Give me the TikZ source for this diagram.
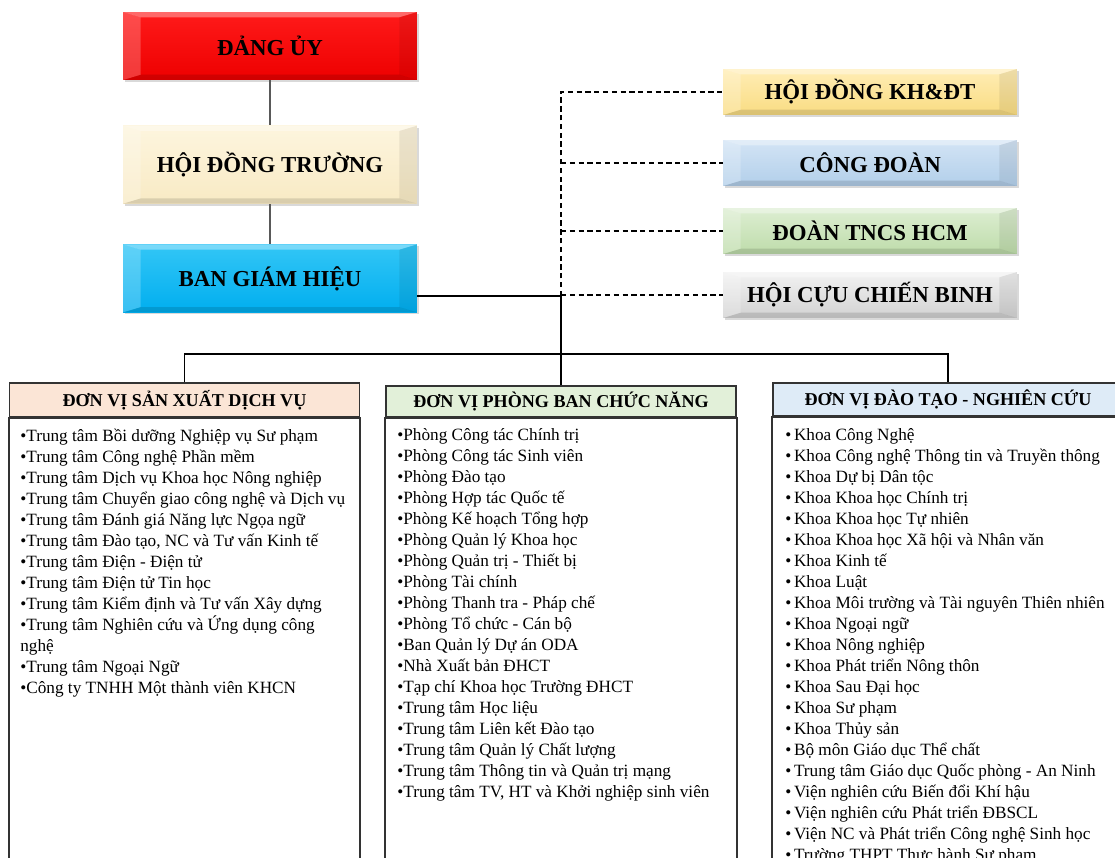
\documentclass[tikz,border=0pt]{standalone}
\usepackage{fontspec}
\setmainfont{Liberation Serif}
\usetikzlibrary{positioning,shadows}

\definecolor{dangred}{HTML}{EE0000}
\definecolor{dangtop}{HTML}{FF1A1A}
\definecolor{hdtcream}{HTML}{F8EAC4}
\definecolor{hdttop}{HTML}{FDF5DE}
\definecolor{bghblue}{HTML}{00AEEF}
\definecolor{bghtop}{HTML}{33C6F6}
\definecolor{khdtgold}{HTML}{F9DC82}
\definecolor{khdttop}{HTML}{FFEDB5}
\definecolor{cdblue}{HTML}{B2CFEA}
\definecolor{cdtop}{HTML}{D3E4F5}
\definecolor{tncsgreen}{HTML}{BEDCAA}
\definecolor{tncstop}{HTML}{DDEED2}
\definecolor{ccbgray}{HTML}{D2D2D2}
\definecolor{ccbtop}{HTML}{F2F2F2}
\definecolor{svpeach}{HTML}{FBE5D6}
\definecolor{pbgreen}{HTML}{E2F0D9}
\definecolor{dtblue}{HTML}{DEEBF7}

\tikzset{
  bevel/.style={path picture={
      \fill[white,opacity=.35] (path picture bounding box.north west) -- (path picture bounding box.north east)
        -- ([shift={(-10pt,-3pt)}]path picture bounding box.north east) -- ([shift={(10pt,-3pt)}]path picture bounding box.north west) -- cycle;
      \fill[black,opacity=.12] (path picture bounding box.south west) -- (path picture bounding box.south east)
        -- ([shift={(-10pt,3pt)}]path picture bounding box.south east) -- ([shift={(10pt,3pt)}]path picture bounding box.south west) -- cycle;
      \fill[white,opacity=.22] (path picture bounding box.north west) -- ([shift={(10pt,-3pt)}]path picture bounding box.north west)
        -- ([shift={(10pt,3pt)}]path picture bounding box.south west) -- (path picture bounding box.south west) -- cycle;
      \fill[black,opacity=.07] (path picture bounding box.north east) -- ([shift={(-10pt,-3pt)}]path picture bounding box.north east)
        -- ([shift={(-10pt,3pt)}]path picture bounding box.south east) -- (path picture bounding box.south east) -- cycle;
  }},
  topbox/.style={rectangle, minimum width=5.88cm, inner sep=0pt, bevel,
    font=\fontsize{13}{15}\selectfont\bfseries,
    drop shadow={shadow xshift=1.2pt, shadow yshift=-1.2pt, opacity=.3}},
  sidebox/.style={topbox, minimum height=0.92cm},
  colhead/.style={rectangle, draw=black!80, line width=0.9pt, minimum width=7cm, inner sep=0pt,
    font=\fontsize{10.3}{12}\selectfont\bfseries},
  colbody/.style={draw=black!80, line width=0.9pt},
  itemlist/.style={anchor=north west, align=left, inner sep=0pt, font=\fontsize{9.8}{11.95}\selectfont},
  link/.style={draw=black, line width=0.6pt},
  dashlink/.style={draw=black, line width=0.6pt, dash pattern=on 3pt off 2pt}
}

\begin{document}
\begin{tikzpicture}[x=0.02cm, y=-0.02cm]
  \useasboundingbox (0,0) rectangle (1115,858);
  \clip (0,0) rectangle (1115,858);

  % leadership
  \node[topbox, minimum height=1.36cm, top color=dangtop, bottom color=dangred] (dang) at (270,46) {ĐẢNG ỦY};
  \node[topbox, minimum height=1.56cm, top color=hdttop, bottom color=hdtcream] (hdt) [below=0.9cm of dang] {HỘI ĐỒNG TRƯỜNG};
  \node[topbox, minimum height=1.36cm, top color=bghtop, bottom color=bghblue] (bgh) [below=0.8cm of hdt] {BAN GIÁM HIỆU};

  % organisations
  \node[sidebox, top color=khdttop, bottom color=khdtgold] (khdt) at (870,92) {HỘI ĐỒNG KH\&ĐT};
  \node[sidebox, top color=cdtop, bottom color=cdblue] (cd) at (870,163) {CÔNG ĐOÀN};
  \node[sidebox, top color=tncstop, bottom color=tncsgreen] (tncs) at (870,231) {ĐOÀN TNCS HCM};
  \node[sidebox, top color=ccbtop, bottom color=ccbgray] (ccb) at (870,295) {HỘI CỰU CHIẾN BINH};

  % unit columns
  \node[colhead, fill=svpeach, minimum height=0.68cm] (sv) at (184.5,400) {ĐƠN VỊ SẢN XUẤT DỊCH VỤ};
  \node[colhead, fill=pbgreen, minimum height=0.62cm] (pb) at (561,401.5) {ĐƠN VỊ PHÒNG BAN CHỨC NĂNG};
  \node[colhead, fill=dtblue, minimum height=0.66cm] (dt) at (948,399.5) {ĐƠN VỊ ĐÀO TẠO - NGHIÊN CỨU};
  \coordinate (bot) at (0,880);
  \draw[colbody] (sv.south west) rectangle (sv.east |- bot);
  \draw[colbody] (pb.south west) rectangle (pb.east |- bot);
  \draw[colbody] (dt.south west) rectangle (dt.east |- bot);

  \node[itemlist] (svlist) at (20,428.5) {•Trung tâm Bồi dưỡng Nghiệp vụ Sư phạm\\
    •Trung tâm Công nghệ Phần mềm\\
    •Trung tâm Dịch vụ Khoa học Nông nghiệp\\
    •Trung tâm Chuyển giao công nghệ và Dịch vụ\\
    •Trung tâm Đánh giá Năng lực Ngọa ngữ\\
    •Trung tâm Đào tạo, NC và Tư vấn Kinh tế\\
    •Trung tâm Điện - Điện tử\\
    •Trung tâm Điện tử Tin học\\
    •Trung tâm Kiểm định và Tư vấn Xây dựng\\
    •Trung tâm Nghiên cứu và Ứng dụng công\\
    nghệ\\
    •Trung tâm Ngoại Ngữ\\
    •Công ty TNHH Một thành viên KHCN};

  \node[itemlist] (pblist) at (397,428.5) {•Phòng Công tác Chính trị\\
    •Phòng Công tác Sinh viên\\
    •Phòng Đào tạo\\
    •Phòng Hợp tác Quốc tế\\
    •Phòng Kế hoạch Tổng hợp\\
    •Phòng Quản lý Khoa học\\
    •Phòng Quản trị - Thiết bị\\
    •Phòng Tài chính\\
    •Phòng Thanh tra - Pháp chế\\
    •Phòng Tổ chức - Cán bộ\\
    •Ban Quản lý Dự án ODA\\
    •Nhà Xuất bản ĐHCT\\
    •Tạp chí Khoa học Trường ĐHCT\\
    •Trung tâm Học liệu\\
    •Trung tâm Liên kết Đào tạo\\
    •Trung tâm Quản lý Chất lượng\\
    •Trung tâm Thông tin và Quản trị mạng\\
    •Trung tâm TV, HT và Khởi nghiệp sinh viên};

  \node[itemlist] (dtlist) at (785,428.5) {•\hspace{1.5pt}Khoa Công Nghệ\\
    •\hspace{1.5pt}Khoa Công nghệ Thông tin và Truyền thông\\
    •\hspace{1.5pt}Khoa Dự bị Dân tộc\\
    •\hspace{1.5pt}Khoa Khoa học Chính trị\\
    •\hspace{1.5pt}Khoa Khoa học Tự nhiên\\
    •\hspace{1.5pt}Khoa Khoa học Xã hội và Nhân văn\\
    •\hspace{1.5pt}Khoa Kinh tế\\
    •\hspace{1.5pt}Khoa Luật\\
    •\hspace{1.5pt}Khoa Môi trường và Tài nguyên Thiên nhiên\\
    •\hspace{1.5pt}Khoa Ngoại ngữ\\
    •\hspace{1.5pt}Khoa Nông nghiệp\\
    •\hspace{1.5pt}Khoa Phát triển Nông thôn\\
    •\hspace{1.5pt}Khoa Sau Đại học\\
    •\hspace{1.5pt}Khoa Sư phạm\\
    •\hspace{1.5pt}Khoa Thủy sản\\
    •\hspace{1.5pt}Bộ môn Giáo dục Thể chất\\
    •\hspace{1.5pt}Trung tâm Giáo dục Quốc phòng - An Ninh\\
    •\hspace{1.5pt}Viện nghiên cứu Biến đổi Khí hậu\\
    •\hspace{1.5pt}Viện nghiên cứu Phát triển ĐBSCL\\
    •\hspace{1.5pt}Viện NC và Phát triển Công nghệ Sinh học\\
    •\hspace{1.5pt}Trường THPT Thực hành Sư phạm};

  % connectors
  \draw[draw=black!65, line width=0.6pt] (dang) -- (hdt);
  \draw[draw=black!65, line width=0.6pt] (hdt) -- (bgh);
  \coordinate (hub) at (561,296);
  \coordinate (bus) at (561,354);
  \draw[link] (bgh.east |- hub) -- (hub) -- (bus);
  \draw[link] (sv.north) -- (sv.north |- bus) -- (dt.north |- bus) -- (dt.north);
  \draw[link] (bus) -- (pb.north);
  \draw[dashlink] (hub) -- (hub |- khdt) -- (khdt.west);
  \draw[dashlink] (hub |- cd) -- (cd.west);
  \draw[dashlink] (hub |- tncs) -- (tncs.west);
  \draw[dashlink] (hub |- ccb) -- (ccb.west);
\end{tikzpicture}
\end{document}
